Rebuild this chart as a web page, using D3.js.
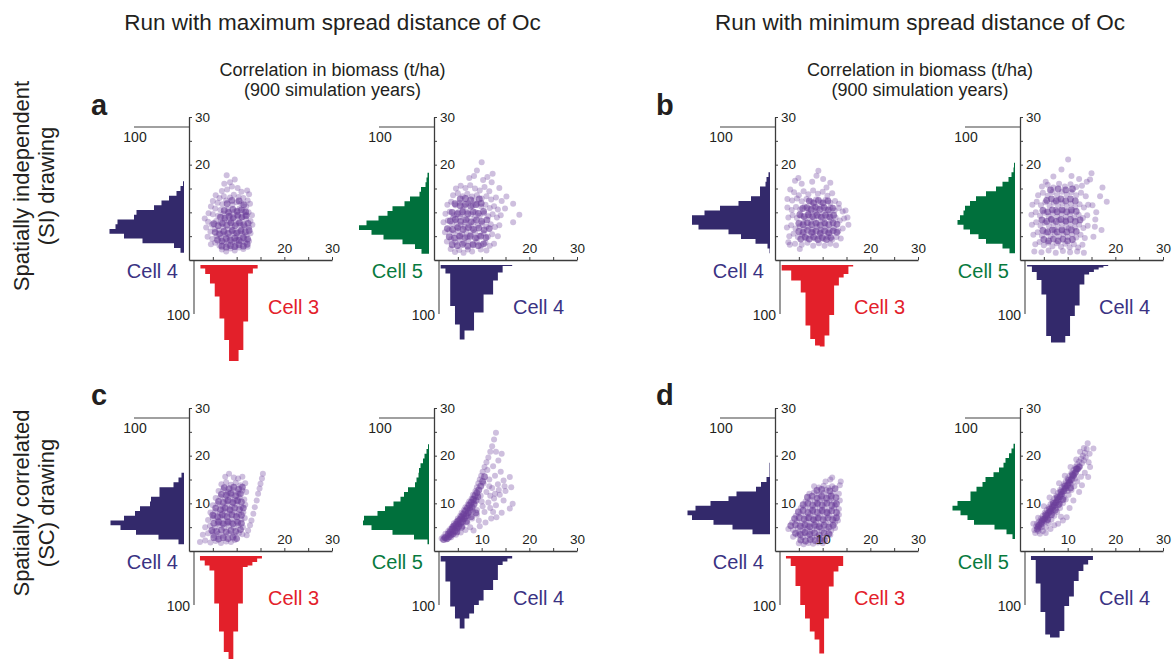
<!DOCTYPE html>
<html>
<head>
<meta charset="utf-8">
<script src="https://cdn.jsdelivr.net/npm/d3@7"></script>
<style>
  body { margin: 0; background: #ffffff; }
  svg text { font-family: "Liberation Sans", Arial, Helvetica, sans-serif; }
</style>
</head>
<body>
<svg id="chart" width="1175" height="659"></svg>
<script>
// ---------------- text ----------------
const groupTitles = ["Run with maximum spread distance of Oc", "Run with minimum spread distance of Oc"];
const subTitleLines = ["Correlation in biomass (t/ha)", "(900 simulation years)"];
const rowLabels = [["Spatially independent", "(SI) drawing"], ["Spatially correlated", "(SC) drawing"]];
const panelLetters = ["a", "b", "c", "d"];
const pairCells = [["Cell 4", "Cell 3"], ["Cell 5", "Cell 4"]]; // [vertical variable, horizontal variable]
const countTick = 100;
const scatterTicks = [5, 10, 15, 20, 25, 30];
const yTickLabels = [[20, 30], [10, 20, 30]];               // per row
const xTickLabels = [[20, 30], [20, 30], [20, 30], [20, 30],
                     [20, 30], [10, 20, 30], [10, 20, 30], [10, 20, 30]];

// ---------------- histograms (counts per 1 t/ha bin) ----------------
// left = distribution of the vertical variable, bottom = horizontal variable
const binStarts = [ // [left start, bottom start]
  [1.5, 2.4], [1.3, 1.4], [1.4, 1.4], [1.4, 1.5],
  [1.4, 2.3], [1.4, 1.4], [3.5, 2.3], [2.5, 2.3]
];
const a1Left   = [7, 20, 83, 120, 149, 137, 133, 100, 95, 60, 45, 30, 15, 7, 2];
const a1Bottom = [7, 18, 37, 63, 107, 150, 192, 192, 170, 113, 17, 7];
const a2Left   = [15, 28, 53, 91, 115, 140, 125, 101, 83, 73, 49, 38, 19, 16, 7, 5, 3];
const a2Bottom = [7, 17, 82, 119, 149, 131, 131, 95, 95, 59, 59, 31, 15, 2, 2];
const b1Left   = [1, 5, 29, 58, 83, 143, 156, 156, 131, 100, 63, 38, 20, 20, 9, 7, 3];
const b1Bottom = [11, 11, 31, 31, 55, 121, 148, 161, 163, 141, 100, 41, 25, 18, 3];
const b2Left   = [11, 25, 58, 73, 90, 103, 115, 110, 103, 100, 90, 78, 58, 38, 25, 13, 7, 3, 2];
const b2Bottom = [3, 14, 30, 59, 142, 155, 155, 155, 142, 102, 81, 39, 19, 14, 9, 5, 2];
const c1Left   = [11, 51, 96, 127, 147, 120, 98, 88, 68, 66, 49, 49, 21, 11, 5];
const c1Bottom = [9, 19, 29, 95, 151, 192, 209, 151, 95, 22, 19, 12, 5];
const c2Left   = [3, 30, 73, 115, 132, 130, 103, 88, 71, 57, 50, 42, 28, 25, 21, 20, 17, 12, 9, 5, 2];
const c2Bottom = [11, 51, 101, 125, 145, 125, 115, 98, 89, 68, 68, 48, 18, 11, 5];
const d1Left   = [35, 75, 113, 156, 165, 149, 119, 83, 67, 28, 18, 7, 1, 1, 1];
const d1Bottom = [5, 20, 60, 98, 125, 151, 167, 195, 125, 61, 31, 20];
const d2Left   = [5, 17, 41, 82, 95, 109, 125, 115, 89, 89, 77, 65, 59, 43, 32, 23, 19, 12, 7, 3];
const d2Bottom = [8, 55, 112, 157, 163, 163, 150, 100, 81, 50, 30, 17, 8];

// ---------------- scatter points [horizontal, vertical] in t/ha ----------------
// "Points" = whole cloud, "Core" = extra simulation years in the densest part
const a1Points = [
  [7.9,17.8],[9.6,16.9],[8.6,16.3],[7.4,16.0],[9.0,15.4],[10.2,15.1],[8.0,14.8],[6.9,14.5],[11.0,14.3],[12.2,14.6],[12.6,13.8],
  [5.6,13.6],[6.4,13.0],[7.3,13.4],[5.0,12.4],[6.0,12.0],[7.0,11.7],[4.6,11.2],[5.5,10.8],[6.6,10.5],[7.8,12.5],[8.6,13.1],[9.4,13.7],[10.4,13.2],[11.4,13.0],[12.3,12.5],
  [4.1,9.8],[5.0,9.6],[6.1,9.3],[7.2,9.7],[8.2,10.6],[9.1,11.6],[10.0,12.1],[11.0,11.9],[12.0,11.2],[12.8,11.8],[8.7,9.4],[9.6,10.2],[10.6,10.8],[11.5,10.2],[12.5,10.0],[13.2,9.4],
  [3.3,8.7],[4.0,8.0],[4.8,7.4],[5.7,8.2],[6.6,7.8],[7.5,8.5],[8.4,8.0],[9.3,8.7],[10.2,9.2],[11.1,8.9],[12.0,8.6],[12.9,8.2],[3.6,6.8],[4.5,6.0],[5.4,6.5],[6.3,6.2],[7.2,6.9],[8.1,6.4],[9.0,7.0],[9.9,7.6],[10.8,7.3],[11.7,7.1],[12.6,6.8],[13.3,7.4],
  [3.9,4.9],[4.9,4.4],[5.8,5.0],[6.7,4.6],[7.6,5.3],[8.5,4.9],[9.4,5.6],[10.3,5.9],[11.2,5.5],[12.1,5.2],[12.9,5.6],[4.6,3.3],[5.5,3.6],[6.4,3.0],[7.3,3.7],[8.2,3.2],[9.1,3.8],[10.0,4.2],[10.9,3.9],[11.8,3.6],[12.6,4.0],
  [6.9,2.2],[7.8,1.8],[8.7,2.4],[9.6,2.0],[10.5,2.6],[11.4,2.3],[12.3,2.8],
  [9.0,6.0],[10.0,5.0],[11.0,6.4],[9.5,4.0],[10.6,4.6],[11.6,4.4],[8.8,8.2],[10.4,8.0],[11.9,9.4],[8.0,4.0],[9.8,3.0],[7.0,5.6]
];
const a1Core = [
  [6.9,2.9],[7.8,2.7],[8.7,3.0],[9.6,2.8],[10.5,3.2],[11.4,2.9],[12.2,3.3],
  [6.0,4.2],[6.9,4.0],[7.8,4.5],[8.7,4.2],[9.6,4.6],[10.5,4.1],[11.4,4.7],[12.3,4.4],
  [5.5,5.8],[6.4,5.5],[7.3,6.0],[8.2,5.6],[9.1,6.2],[10.0,5.7],[10.9,6.1],[11.8,5.9],[12.6,6.2],
  [5.2,7.6],[6.1,7.2],[7.0,7.7],[7.9,7.3],[8.8,7.8],[9.7,7.2],[10.6,7.8],[11.5,7.4],[12.4,7.7],
  [6.6,9.0],[7.5,8.8],[8.4,9.2],[9.3,8.9],[10.2,9.4],[11.1,9.0],[12.0,9.3],
  [7.4,10.4],[8.3,10.0],[9.2,10.6],[10.1,10.2],[11.0,10.5],[11.9,10.1],
  [8.0,11.8],[9.0,12.5],[10.5,12.4],[11.5,11.6]
];
const a2Points = [
  [10.0,20.5],[9.0,18.8],[12.3,18.1],[10.3,16.8],[12.1,16.3],[13.7,15.1],[15.2,13.3],[16.6,11.8],[17.9,9.5],[16.6,7.9],[14.9,10.8],[14.2,12.4],[7.4,17.2],[8.4,17.6],[11.2,17.4],
  [4.6,15.0],[5.6,15.6],[6.6,15.1],[7.6,15.7],[8.6,15.0],[9.6,14.6],[10.6,15.3],[11.6,14.4],[4.0,13.6],[5.0,14.0],[6.0,13.4],[7.0,13.9],[8.0,13.3],[9.0,13.6],[10.0,12.9],[11.0,13.4],[12.0,12.7],[13.0,13.1],
  [2.8,11.6],[3.6,12.2],[4.5,11.5],[5.4,12.0],[6.3,11.3],[7.2,11.9],[8.1,11.4],[9.0,11.8],[9.9,11.2],[10.8,11.6],[11.7,10.9],[12.6,11.3],[13.4,10.6],
  [2.4,9.7],[3.3,10.1],[4.2,9.4],[5.1,10.0],[6.0,9.5],[6.9,10.1],[7.8,9.6],[8.7,10.0],[9.6,9.3],[10.5,9.8],[11.4,9.2],[12.3,9.6],[13.2,8.9],[14.0,9.4],
  [2.0,7.9],[2.9,8.3],[3.8,7.6],[4.7,8.1],[5.6,7.4],[6.5,7.9],[7.4,7.3],[8.3,7.8],[9.2,7.2],[10.1,7.7],[11.0,7.0],[11.9,7.5],[12.8,6.9],[13.7,7.3],
  [2.3,5.8],[3.2,6.3],[4.1,5.6],[5.0,6.1],[5.9,5.4],[6.8,6.0],[7.7,5.3],[8.6,5.8],[9.5,5.1],[10.4,5.6],[11.3,4.9],[12.2,5.4],[13.4,5.0],
  [2.7,3.9],[3.6,4.4],[4.5,3.7],[5.4,4.2],[6.3,3.5],[7.2,4.0],[8.1,3.3],[9.0,3.8],[9.9,3.1],[10.8,3.6],[11.7,3.0],[12.6,3.4],
  [3.5,2.3],[4.4,1.7],[5.3,2.1],[6.2,1.5],[7.1,2.2],[8.0,1.8],[9.8,2.2],[11.0,2.0],
  [4.0,8.8],[5.5,9.0],[7.0,8.6],[8.5,8.8],[4.8,6.9],[6.4,7.0],[8.0,6.6],[5.2,5.0],[7.0,4.8],[9.0,4.6],[6.0,10.6],[8.4,12.5]
];
const a2Core = [
  [3.8,3.2],[4.9,3.0],[6.0,3.3],[7.1,2.9],[8.2,3.2],[9.3,3.0],[10.4,3.4],
  [3.2,4.9],[4.3,4.6],[5.4,5.0],[6.5,4.7],[7.6,5.0],[8.7,4.6],[9.8,5.0],[10.9,4.7],
  [2.8,6.6],[3.9,6.4],[5.0,6.8],[6.1,6.4],[7.2,6.8],[8.3,6.4],[9.4,6.7],[10.5,6.3],[11.6,6.6],
  [3.4,8.2],[4.5,8.5],[5.6,8.1],[6.7,8.4],[7.8,8.0],[8.9,8.4],[10.0,8.1],[11.1,8.4],
  [3.8,10.0],[4.9,9.7],[6.0,10.1],[7.1,9.7],[8.2,10.1],[9.3,9.8],[10.4,10.2],
  [4.4,11.8],[5.5,11.4],[6.6,11.7],[7.7,11.3],[8.8,11.6],[9.9,11.9],
  [5.5,12.8],[6.6,12.9],[7.7,12.6],[9.5,12.8]
];
const b1Points = [
  [9.1,18.7],[8.7,17.7],[4.9,17.2],[4.2,16.6],[10.1,17.0],[10.8,15.2],[5.6,16.0],[3.2,14.8],[2.6,12.8],[2.8,3.7],[3.1,3.2],[5.2,2.3],[15.2,8.9],[15.4,7.4],[14.8,10.4],[11.6,16.2],[7.8,16.4],
  [4.0,14.2],[5.0,13.6],[6.0,14.4],[7.0,13.8],[8.0,14.6],[9.0,13.9],[10.0,14.3],[11.0,13.5],[12.0,14.0],[3.6,12.5],[4.6,12.9],[5.6,12.3],[6.6,12.8],[7.6,12.2],[8.6,12.7],[9.6,12.1],[10.6,12.6],[11.6,12.0],[12.6,12.4],[13.4,11.8],
  [2.6,11.0],[3.5,10.5],[4.4,11.1],[5.3,10.6],[6.2,11.2],[7.1,10.7],[8.0,11.3],[8.9,10.8],[9.8,11.2],[10.7,10.6],[11.6,11.0],[12.5,10.4],[13.4,10.9],[14.2,10.2],
  [2.8,8.9],[3.7,9.4],[4.6,8.8],[5.5,9.3],[6.4,8.7],[7.3,9.2],[8.2,8.6],[9.1,9.1],[10.0,8.5],[10.9,9.0],[11.8,8.4],[12.7,8.9],[13.6,8.3],[14.5,8.7],
  [2.5,6.8],[3.4,7.3],[4.3,6.6],[5.2,7.1],[6.1,6.5],[7.0,7.0],[7.9,6.4],[8.8,6.9],[9.7,6.3],[10.6,6.8],[11.5,6.2],[12.4,6.7],[13.3,6.1],[14.2,6.6],
  [3.0,5.0],[3.9,5.5],[4.8,4.8],[5.7,5.3],[6.6,4.6],[7.5,5.1],[8.4,4.5],[9.3,5.0],[10.2,4.4],[11.1,4.9],[12.0,4.3],[12.9,4.8],[13.8,4.5],
  [4.2,3.4],[5.6,3.2],[6.8,3.6],[8.0,3.0],[9.2,3.5],[10.4,3.0],[11.6,3.4],[12.8,3.1],
  [7.0,9.9],[8.5,9.8],[10.0,9.7],[7.5,8.0],[9.0,7.8],[10.5,7.6],[8.0,5.8],[9.5,6.0],[11.0,5.6],[6.0,7.8],[11.5,9.6],[8.3,10.3]
];
const b1Core = [
  [5.4,4.4],[6.3,4.8],[7.2,4.4],[8.1,4.8],[9.0,4.3],[9.9,4.7],[10.8,4.3],[11.7,4.7],
  [5.0,6.0],[5.9,5.8],[6.8,6.2],[7.7,5.8],[8.6,6.1],[9.5,5.6],[10.4,6.1],[11.3,5.7],[12.2,6.1],[13.0,5.8],
  [5.0,7.7],[5.9,7.4],[6.8,7.8],[7.7,7.4],[8.6,7.7],[9.5,7.3],[10.4,7.8],[11.3,7.4],[12.2,7.8],[13.0,7.5],
  [5.2,9.5],[6.1,9.1],[7.0,9.5],[7.9,9.1],[8.8,9.4],[9.7,9.0],[10.6,9.4],[11.5,9.0],[12.3,9.4],
  [5.8,10.8],[6.7,11.0],[7.6,10.6],[8.5,11.1],[9.4,10.6],[10.3,11.0],[11.2,10.5],[12.1,10.9],
  [7.2,12.4],[8.1,12.0],[9.1,12.5],[10.1,12.0],[11.1,12.4]
];
const b2Points = [
  [10.1,21.1],[8.7,19.0],[10.8,17.6],[15.0,18.2],[14.7,16.9],[14.0,16.4],[17.3,15.2],[16.8,13.4],[18.2,12.2],[15.7,7.0],[17.1,6.3],[15.4,4.9],[16.0,10.0],[15.2,11.5],[15.8,8.5],[7.0,17.5],[5.4,16.4],[12.4,17.0],
  [4.6,15.4],[5.8,15.8],[7.0,15.2],[8.2,16.0],[9.4,15.4],[10.6,15.9],[11.8,15.3],[13.0,15.6],[3.8,13.6],[4.8,14.1],[5.8,13.5],[6.8,14.2],[7.8,13.6],[8.8,14.3],[9.8,13.7],[10.8,14.2],[11.8,13.6],[12.8,14.1],[13.8,13.4],
  [2.6,11.6],[3.5,12.2],[4.4,11.5],[5.3,12.1],[6.2,11.4],[7.1,12.0],[8.0,11.3],[8.9,11.9],[9.8,11.2],[10.7,11.8],[11.6,11.1],[12.5,11.7],[13.4,11.0],[14.3,11.6],
  [2.4,9.5],[3.3,10.0],[4.2,9.3],[5.1,9.9],[6.0,9.2],[6.9,9.8],[7.8,9.1],[8.7,9.7],[9.6,9.0],[10.5,9.6],[11.4,8.9],[12.3,9.5],[13.2,8.8],[14.1,9.4],
  [2.5,7.4],[3.4,7.9],[4.3,7.2],[5.2,7.8],[6.1,7.1],[7.0,7.7],[7.9,7.0],[8.8,7.6],[9.7,6.9],[10.6,7.5],[11.5,6.8],[12.4,7.4],[13.3,6.7],[14.2,7.2],
  [2.8,5.3],[3.7,5.8],[4.6,5.1],[5.5,5.7],[6.4,5.0],[7.3,5.6],[8.2,4.9],[9.1,5.5],[10.0,4.8],[10.9,5.4],[11.8,4.7],[12.7,5.3],[13.6,4.6],
  [3.2,3.3],[4.1,3.8],[5.0,3.1],[5.9,3.6],[6.8,2.9],[7.7,3.5],[8.6,2.8],[9.5,3.4],[10.4,2.7],[11.3,3.3],[12.2,2.6],[13.1,3.2],
  [3.0,1.8],[4.5,1.6],[6.0,2.0],[7.5,1.5],[9.0,1.9],[10.5,1.6],[12.0,1.8],[13.4,1.5],
  [7.5,10.5],[9.0,10.4],[8.2,8.4],[9.6,8.0],[7.2,6.4],[8.8,6.2],[10.2,6.6],[6.5,8.6],[10.8,10.2],[8.0,12.6]
];
const b2Core = [
  [5.0,4.3],[6.0,4.0],[7.0,4.4],[8.0,4.0],[9.0,4.4],[10.0,4.0],[11.0,4.3],
  [4.8,6.2],[5.8,5.9],[6.8,6.3],[7.8,5.9],[8.8,6.3],[9.8,5.9],[10.8,6.3],[11.8,6.0],
  [4.6,8.4],[5.6,8.1],[6.6,8.5],[7.6,8.1],[8.6,8.5],[9.6,8.2],[10.6,8.5],[11.6,8.1],[12.6,8.4],
  [4.8,10.4],[5.8,10.1],[6.8,10.5],[7.8,10.1],[8.8,10.5],[9.8,10.1],[10.8,10.5],[11.8,10.2],
  [5.6,12.5],[6.6,12.8],[7.6,12.4],[8.6,12.8],[9.6,12.4],[10.6,12.8],[11.6,12.4],
  [6.4,14.7],[8.0,14.9],[9.6,14.7],[11.0,14.9]
];
const c1Points = [
  [2.3,1.9],[3.4,2.2],[4.5,1.8],[5.6,2.1],[6.7,1.7],[7.8,2.0],[8.8,1.9],[9.6,2.3],
  [2.9,3.4],[4.0,3.7],[5.1,3.3],[6.2,3.6],[7.3,3.2],[8.4,3.7],[9.5,3.3],[10.5,3.8],[11.2,3.5],
  [3.4,5.0],[4.4,5.3],[5.4,4.9],[6.4,5.4],[7.4,4.8],[8.4,5.3],[9.4,4.9],[10.4,5.4],[11.3,5.0],
  [4.0,6.5],[5.0,6.9],[6.0,6.4],[7.0,6.8],[8.0,6.3],[9.0,6.7],[10.0,6.2],[11.0,6.6],[11.7,6.9],
  [4.5,8.1],[5.5,8.4],[6.5,7.9],[7.5,8.3],[8.5,7.8],[9.5,8.2],[10.5,7.7],[11.4,8.1],
  [5.0,9.6],[6.0,9.9],[7.0,9.4],[8.0,9.8],[9.0,9.3],[10.0,9.7],[11.0,9.2],[11.8,9.7],
  [5.6,11.1],[6.6,11.4],[7.6,10.9],[8.6,11.3],[9.6,10.8],[10.6,11.2],[11.6,10.8],
  [6.2,12.6],[7.2,12.9],[8.2,12.4],[9.2,12.8],[10.2,12.3],[11.2,12.7],[12.0,12.4],
  [6.8,14.0],[7.8,14.4],[8.8,13.9],[9.8,14.3],[10.8,13.8],[11.8,14.2],
  [7.6,15.6],[8.4,16.2],[9.4,15.4],[10.3,15.2],[11.2,15.6],
  [12.4,4.3],[12.8,5.4],[13.1,6.4],[13.5,7.8],[13.8,9.2],[14.2,10.6],[14.5,12.0],[14.8,13.1],[15.0,14.1],[15.3,15.2],[15.5,16.2],[12.1,3.3],
  [6.5,7.2],[7.5,7.4],[8.5,8.8],[9.2,10.2],[8.0,10.4],[10.2,10.4],[7.0,5.8],[8.0,5.8],[9.0,6.0],[9.8,7.4],[7.2,8.8],[6.0,5.8],[5.2,7.4],[9.0,11.8],[10.4,12.0],[8.0,12.0],[5.0,4.0],[6.2,3.0]
];
const c1Core = [
  [5.2,2.8],[6.2,2.5],[7.2,2.8],[8.2,2.6],[9.2,2.9],[10.0,2.6],
  [4.8,4.3],[5.8,4.1],[6.8,4.4],[7.8,4.0],[8.8,4.3],[9.8,4.1],[10.8,4.5],
  [5.2,5.8],[6.2,6.1],[7.2,5.7],[8.2,6.1],[9.2,5.7],[10.2,6.0],[11.0,5.8],
  [5.0,7.5],[6.0,7.2],[7.0,7.6],[8.0,7.2],[9.0,7.6],[10.0,7.2],[11.0,7.5],
  [5.6,9.0],[6.6,8.7],[7.6,9.0],[8.6,8.6],[9.6,9.0],[10.6,8.7],[11.4,9.0],
  [6.2,10.4],[7.2,10.2],[8.2,10.6],[9.2,10.2],[10.2,10.6],[11.0,10.3],
  [6.8,11.9],[7.8,11.7],[8.8,12.1],[9.8,11.6],[10.8,12.0],
  [7.4,13.3],[8.4,13.1],[9.4,13.4],[10.4,13.0],[11.2,13.4]
];
const c2Points = [
  [1.6,2.6],[2.0,3.0],[2.4,3.6],[2.8,3.2],[3.0,4.2],[3.4,4.6],[3.6,3.8],[3.9,5.2],[4.2,5.8],[4.4,4.8],[4.7,6.2],[5.0,6.8],[5.2,5.6],[5.5,7.4],[5.8,8.0],[6.0,6.6],[6.3,8.6],[6.6,9.2],[6.8,7.8],[7.1,9.8],[7.4,10.4],[7.6,9.0],[7.9,11.0],[8.2,11.8],[8.4,10.4],[8.7,12.6],[9.0,13.4],[9.3,14.2],[9.6,15.0],[9.9,15.8],[10.2,16.6],[10.6,17.6],[11.0,18.6],[11.4,19.6],[11.8,20.8],[12.2,22.0],[12.6,23.4],[13.0,24.8],
  [2.6,2.4],[3.6,2.9],[4.6,3.4],[5.6,3.9],[6.6,4.4],[7.6,5.0],[4.0,4.0],[5.0,4.6],[6.0,5.2],[7.0,6.0],[8.0,6.8],[9.0,7.6],
  [8.3,4.3],[9.6,5.2],[10.8,6.0],[12.0,6.8],[13.1,7.1],[14.2,8.0],[15.9,8.9],[16.5,9.9],[9.0,8.6],[10.2,9.4],[11.4,10.2],[12.6,11.0],[13.8,11.8],[15.0,12.6],[16.2,13.4],[9.8,11.6],[11.0,12.4],[12.2,13.2],[13.4,14.0],[14.6,14.8],[15.9,15.5],[10.4,14.2],[11.6,15.0],[12.8,15.8],[14.0,16.6],[11.2,17.0],[12.4,17.8],[13.5,19.0],[14.2,20.4],[13.0,20.8],[11.6,13.6],[12.8,12.0],[10.6,8.2],[11.8,9.0],[13.0,9.6],[14.6,10.6],[9.4,6.4],[12.4,8.2],[13.6,12.8],[14.8,13.6],[10.0,10.4],[11.8,11.6],
  [3.2,3.6],[4.0,4.8],[4.8,5.8],[5.6,6.8],[6.2,7.6],[7.0,8.6],[7.8,9.8],[8.4,11.0],[3.8,5.0],[4.6,5.2],[5.4,6.0],[6.4,7.0],[7.2,7.4],[8.2,8.4],[2.2,2.8],[6.0,7.2],[5.0,5.6]
];
const c2Core = [
  [2.0,2.4],[2.4,2.8],[2.8,2.6],[3.2,3.0],[3.0,3.6],[3.6,3.4],[3.4,4.0],[4.0,3.6],[3.8,4.6],[4.4,4.2],[4.2,5.2],[4.8,4.8],[4.6,5.6],[5.2,5.2],[5.0,6.2],[5.6,5.8],[5.4,6.6],[6.0,6.2],[5.8,7.2],[6.4,6.8],[6.2,7.8],[6.8,7.4],
  [6.6,8.4],[7.2,8.0],[7.0,9.0],[7.6,8.6],[7.4,9.6],[8.0,9.2],[7.8,10.2],[8.4,9.8],[8.2,10.8],[8.8,10.6],[8.6,11.6],[9.2,11.4],[9.0,12.2],[9.4,12.8],[9.8,13.6],[6.8,6.2],[7.8,7.2],[8.8,8.0],[5.8,5.0],[4.8,4.0],[10.2,14.6],[10.6,15.6]
];
const d1Points = [
  [5.0,1.6],[6.0,1.4],[7.0,1.7],[8.0,1.5],[9.0,1.8],[10.0,1.6],
  [3.8,3.0],[4.8,3.3],[5.8,2.9],[6.8,3.2],[7.8,2.8],[8.8,3.1],[9.8,2.7],[10.8,3.1],[11.6,3.4],
  [2.8,4.6],[3.8,4.4],[4.8,4.8],[5.8,4.3],[6.8,4.7],[7.8,4.2],[8.8,4.6],[9.8,4.2],[10.8,4.6],[11.8,4.3],[12.6,4.8],
  [3.6,6.0],[4.6,6.3],[5.6,5.8],[6.6,6.2],[7.6,5.7],[8.6,6.1],[9.6,5.6],[10.6,6.0],[11.6,5.6],[12.6,6.0],[13.2,6.4],
  [4.4,7.4],[5.4,7.8],[6.4,7.3],[7.4,7.7],[8.4,7.2],[9.4,7.6],[10.4,7.1],[11.4,7.5],[12.4,7.0],[13.4,7.6],
  [5.4,9.0],[6.4,9.3],[7.4,8.8],[8.4,9.2],[9.4,8.7],[10.4,9.1],[11.4,8.6],[12.4,9.0],[13.4,8.8],
  [6.4,10.4],[7.4,10.8],[8.4,10.3],[9.4,10.7],[10.4,10.2],[11.4,10.6],[12.4,10.2],[13.6,10.6],
  [7.2,12.0],[8.2,12.3],[9.2,11.8],[10.2,12.2],[11.2,11.7],[12.2,12.1],[13.4,12.0],
  [8.2,13.6],[9.2,13.3],[10.2,13.7],[11.2,13.2],[12.0,13.6],[13.6,13.8],
  [11.6,15.0],[12.0,15.4],[13.8,14.6],[10.6,14.6],
  [6.0,5.0],[7.0,5.2],[8.0,6.6],[9.0,6.8],[10.0,8.2],[11.0,8.0],[9.0,9.8],[10.0,11.0],[8.0,8.2],[7.0,6.8],[5.0,4.0],[6.2,3.8],[7.4,4.0],[10.8,12.8],[11.8,11.0],[12.6,9.6],[8.6,5.2],[9.6,4.8]
];
const d1Core = [
  [5.4,2.3],[6.4,2.1],[7.4,2.4],[8.4,2.2],[9.4,2.4],[10.4,2.2],
  [4.3,3.7],[5.3,3.5],[6.3,3.9],[7.3,3.5],[8.3,3.8],[9.3,3.4],[10.3,3.8],[11.3,3.6],
  [3.3,5.3],[4.3,5.5],[5.3,5.2],[6.3,5.5],[7.3,5.1],[8.3,5.4],[9.3,5.1],[10.3,5.4],[11.3,5.0],[12.2,5.4],
  [4.1,6.8],[5.1,7.0],[6.1,6.7],[7.1,7.0],[8.1,6.6],[9.1,6.9],[10.1,6.6],[11.1,6.9],[12.1,6.6],[12.9,7.0],
  [4.9,8.2],[5.9,8.5],[6.9,8.1],[7.9,8.5],[8.9,8.1],[9.9,8.5],[10.9,8.1],[11.9,8.4],[12.9,8.1],
  [5.9,9.7],[6.9,10.0],[7.9,9.6],[8.9,10.0],[9.9,9.6],[10.9,10.0],[11.9,9.6],[12.9,9.9],
  [6.8,11.3],[7.8,11.5],[8.8,11.1],[9.8,11.5],[10.8,11.1],[11.8,11.5],[12.8,11.2],
  [8.8,12.7],[9.8,12.9],[11.5,12.6],[12.6,13.1]
];
const d2Points = [
  [3.0,4.4],[3.4,5.2],[3.2,3.8],[3.8,4.2],[3.6,5.8],[4.2,4.8],[4.0,6.2],[4.6,5.6],[4.4,6.8],[5.0,6.4],[4.8,7.4],[5.4,7.0],[5.2,8.0],[5.8,7.6],[5.6,8.6],[6.2,8.2],[6.0,9.2],[6.6,8.8],[6.4,9.8],[7.0,9.4],
  [6.8,10.4],[7.4,10.0],[7.2,11.0],[7.8,10.6],[7.6,11.6],[8.2,11.2],[8.0,12.2],[8.6,11.8],[8.4,12.8],[9.0,12.4],[8.8,13.4],[9.4,13.0],[9.2,14.0],[9.8,13.6],[9.6,14.6],[10.2,14.2],[10.0,15.2],[10.6,14.8],[10.4,15.8],[11.0,15.4],
  [10.8,16.4],[11.4,16.0],[11.2,17.0],[11.8,16.6],[11.6,17.6],[12.2,17.2],[12.0,18.2],[12.6,17.8],[12.4,18.8],[13.0,18.4],[12.8,19.4],[13.4,19.0],[13.2,20.0],[13.8,19.6],[13.6,20.6],[14.0,21.4],[13.4,21.6],[14.2,22.6],[15.4,21.5],[14.6,20.4],
  [14.4,18.6],[14.7,17.6],[14.3,15.5],[13.6,16.4],[12.8,15.6],[12.0,14.6],[11.4,13.6],[10.8,12.8],[10.2,11.8],[9.6,10.8],[9.0,10.0],[8.4,9.0],[7.8,8.2],[7.2,7.4],[6.6,6.6],[6.0,5.8],[5.4,5.0],[4.8,4.2],[4.2,3.6],
  [8.0,5.7],[9.0,6.4],[9.8,7.1],[8.6,7.2],[7.2,5.4],[6.4,4.6],[5.4,3.8],[10.4,9.0],[11.2,10.6],[12.4,12.4],[13.0,13.8],
  [2.8,5.7],[3.8,7.0],[5.0,9.4],[6.2,11.2],[7.0,12.6],[8.2,14.2],[9.4,15.8],[10.6,17.6],[11.8,19.2],[12.6,20.8],
  [5.0,6.0],[6.0,7.0],[6.8,8.0],[7.6,9.0],[8.4,10.2],[9.2,11.2],[10.0,12.6],[10.8,14.0],[11.6,15.2],[4.6,5.0],[5.6,6.2],[7.0,8.6],[8.0,9.6]
];
const d2Core = [
  [3.6,4.6],[4.0,5.4],[4.4,5.8],[4.8,6.6],[5.2,6.8],[5.6,7.4],[6.0,8.0],[6.4,8.4],[6.8,9.2],[7.2,9.6],[7.6,10.2],[8.0,10.8],[8.4,11.4],[8.8,12.0],[9.2,12.6],[9.6,13.2],[10.0,13.8],[10.4,14.4],[10.8,15.0],[11.2,15.8],[11.6,16.4],[12.0,17.2],[12.4,17.6],
  [3.8,5.0],[4.6,6.2],[5.4,7.6],[6.2,8.8],[7.0,10.0],[7.8,11.2],[8.6,12.4],[9.4,13.6],[10.2,14.8],[11.0,16.0],[11.8,17.2],
  [5.8,6.6],[7.4,8.6],[9.0,10.8],[10.6,13.2],[6.6,7.6],[8.2,9.8]
];

// ---------------- layout & style ----------------
const colX = [189, 434, 775, 1020];   // x of each scatter's origin
const rowY = [260, 551];              // y of each scatter's origin
const axisLen = 143;                  // pixels spanned by 0..30 t/ha
const countLen = 50;                  // pixels spanned by 100 counts
const histGap = 5;
const navy = "#33296b", red = "#e3202a", green = "#00703c";
const cellColors = { "Cell 3": red, "Cell 4": navy, "Cell 5": green };
const cellTextColors = { "Cell 3": "#e3202a", "Cell 4": "#3a3283", "Cell 5": "#087a3e" };
const pointColor = "#6a3d9a";
const inkColor = "#231f20";

const panels = [
  { col: 0, row: 0, pair: 0, pts: a1Points, core: a1Core, left: a1Left, bottom: a1Bottom },
  { col: 1, row: 0, pair: 1, pts: a2Points, core: a2Core, left: a2Left, bottom: a2Bottom },
  { col: 2, row: 0, pair: 0, pts: b1Points, core: b1Core, left: b1Left, bottom: b1Bottom },
  { col: 3, row: 0, pair: 1, pts: b2Points, core: b2Core, left: b2Left, bottom: b2Bottom },
  { col: 0, row: 1, pair: 0, pts: c1Points, core: c1Core, left: c1Left, bottom: c1Bottom },
  { col: 1, row: 1, pair: 1, pts: c2Points, core: c2Core, left: c2Left, bottom: c2Bottom },
  { col: 2, row: 1, pair: 0, pts: d1Points, core: d1Core, left: d1Left, bottom: d1Bottom },
  { col: 3, row: 1, pair: 1, pts: d2Points, core: d2Core, left: d2Left, bottom: d2Bottom }
];

const svg = d3.select("#chart");

// ---------------- headings ----------------
const groupCenters = [332.5, 920];
groupCenters.forEach((cx, i) => {
  svg.append("text").attr("x", cx).attr("y", 30).attr("text-anchor", "middle")
    .attr("font-size", 22.5).attr("fill", inkColor).text(groupTitles[i]);
  subTitleLines.forEach((line, j) => {
    svg.append("text").attr("x", cx).attr("y", 76 + j * 20).attr("text-anchor", "middle")
      .attr("font-size", 18).attr("fill", inkColor).text(line);
  });
});

// row labels, rotated
const rowCenters = [186, 503];
rowLabels.forEach((lines, r) => {
  lines.forEach((line, j) => {
    const bx = 29 + j * 25;
    svg.append("text")
      .attr("transform", `translate(${bx},${rowCenters[r]}) rotate(-90)`)
      .attr("text-anchor", "middle").attr("font-size", 22).attr("fill", inkColor)
      .text(line);
  });
});

// panel letters
const letterPos = [[91, 115], [656, 115], [91, 405], [656, 405]];
panelLetters.forEach((l, i) => {
  svg.append("text").attr("x", letterPos[i][0]).attr("y", letterPos[i][1])
    .attr("font-size", 29).attr("font-weight", "bold").attr("fill", inkColor).text(l);
});

// ---------------- panels ----------------
panels.forEach((p, k) => {
  const ox = colX[p.col], oy = rowY[p.row];
  const x = d3.scaleLinear().domain([0, 30]).range([ox, ox + axisLen]);
  const y = d3.scaleLinear().domain([0, 30]).range([oy, oy - axisLen]);
  const leftCount = d3.scaleLinear().domain([0, countTick]).range([ox - histGap, ox - histGap - countLen]);
  const downCount = d3.scaleLinear().domain([0, countTick]).range([oy + histGap, oy + histGap + countLen]);
  const [vCell, hCell] = pairCells[p.pair];
  const [leftStart, bottomStart] = binStarts[k];
  const g = svg.append("g");
  const line = d3.line();

  // left histogram (vertical variable) as one stepped outline
  const lv = [[leftCount(0), y(leftStart)]];
  p.left.forEach((c, i) => {
    lv.push([leftCount(c), y(leftStart + i)], [leftCount(c), y(leftStart + i + 1)]);
  });
  lv.push([leftCount(0), y(leftStart + p.left.length)]);
  g.append("path").attr("d", line(lv) + "Z").attr("fill", cellColors[vCell]);

  // bottom histogram (horizontal variable)
  const bv = [[x(bottomStart), downCount(0)]];
  p.bottom.forEach((c, i) => {
    bv.push([x(bottomStart + i), downCount(c)], [x(bottomStart + i + 1), downCount(c)]);
  });
  bv.push([x(bottomStart + p.bottom.length), downCount(0)]);
  g.append("path").attr("d", line(bv) + "Z").attr("fill", cellColors[hCell]);

  // count axes
  g.append("line").attr("x1", leftCount(countTick)).attr("x2", ox)
    .attr("y1", oy - 133).attr("y2", oy - 133)
    .attr("stroke", "#808080").attr("stroke-width", 1.6);
  g.append("text").attr("x", leftCount(countTick) + 1).attr("y", oy - 118.5)
    .attr("text-anchor", "middle").attr("font-size", 14).attr("fill", inkColor).text(countTick);
  g.append("line").attr("x1", ox + 5).attr("x2", ox + 5)
    .attr("y1", oy + 1).attr("y2", downCount(countTick) - 1)
    .attr("stroke", "#808080").attr("stroke-width", 1.6);
  g.append("text").attr("x", ox + 1).attr("y", oy + 60)
    .attr("text-anchor", "end").attr("font-size", 14).attr("fill", inkColor).text(countTick);

  // scatter: whole cloud, then the dense core
  g.append("g").selectAll("circle").data(p.pts).join("circle")
    .attr("cx", d => x(d[0])).attr("cy", d => y(d[1])).attr("r", 3.0)
    .attr("fill", pointColor).attr("fill-opacity", 0.33);
  g.append("g").selectAll("circle").data(p.core).join("circle")
    .attr("cx", d => x(d[0])).attr("cy", d => y(d[1])).attr("r", 3.4)
    .attr("fill", pointColor).attr("fill-opacity", 0.6);

  // scatter axes (ticks point inward, labels inside)
  const xLab = xTickLabels[k], yLab = yTickLabels[p.row];
  const xAxis = g.append("g").attr("transform", `translate(0,${oy})`)
    .call(d3.axisTop(x).tickValues(scatterTicks).tickSize(3).tickSizeOuter(0).tickPadding(4)
      .tickFormat(d => xLab.includes(d) ? d : ""));
  const yAxis = g.append("g").attr("transform", `translate(${ox},0)`)
    .call(d3.axisRight(y).tickValues(scatterTicks).tickSize(3).tickSizeOuter(0).tickPadding(3)
      .tickFormat(d => yLab.includes(d) ? d : ""));
  [xAxis, yAxis].forEach(a => {
    a.attr("font-family", null).attr("font-size", null);
    a.select(".domain").attr("stroke", "#3c3c3c").attr("stroke-width", 1.3);
    a.selectAll(".tick line").attr("stroke", "#3c3c3c").attr("stroke-width", 1);
    a.selectAll(".tick text").attr("font-size", 13.5).attr("fill", inkColor);
  });

  // cell names
  g.append("text").attr("x", ox - 11).attr("y", oy + 18).attr("text-anchor", "end")
    .attr("font-size", 20).attr("fill", cellTextColors[vCell]).text(vCell);
  g.append("text").attr("x", ox + 79).attr("y", oy + 54).attr("text-anchor", "start")
    .attr("font-size", 20).attr("fill", cellTextColors[hCell]).text(hCell);
});
</script>
</body>
</html>
